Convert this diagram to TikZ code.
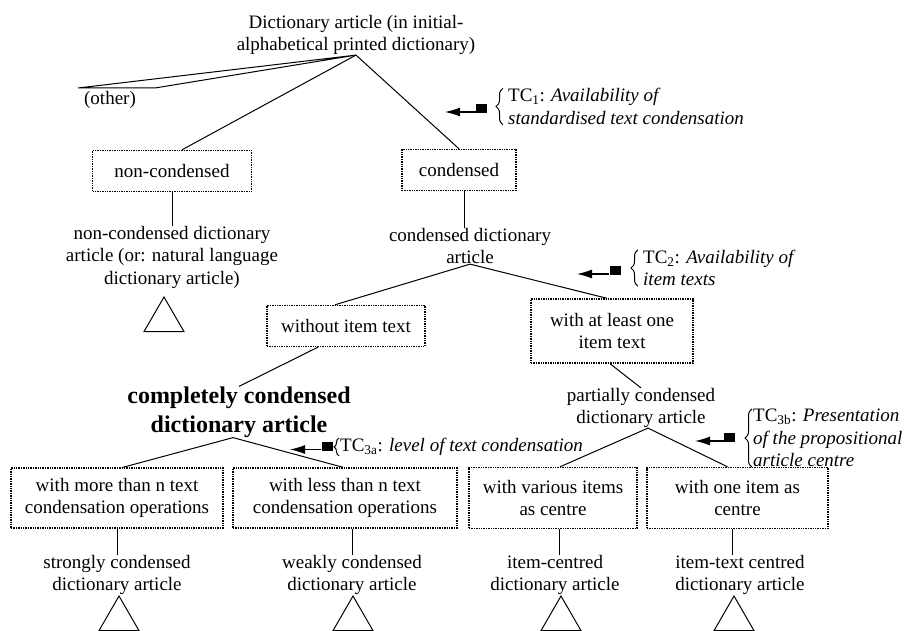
\documentclass[tikz,border=0pt]{standalone}
\usepackage{fontspec}
\setmainfont{Liberation Serif}
\usetikzlibrary{positioning}
\usetikzlibrary{shapes.geometric}
\usetikzlibrary{arrows.meta}
\usetikzlibrary{decorations.pathreplacing}
\tikzset{
  treenode/.style = {align=center, inner sep=0pt, text centered,
    font=\fontsize{19}{22.5}\selectfont},
  box_node/.style = {treenode, rectangle, draw=black, densely dotted,
    line width=1.4pt, inner ysep=9pt, minimum height=41pt},
  bold_node/.style = {treenode, font=\fontsize{24}{29}\selectfont\bfseries},
  tc_node/.style = {treenode, align=left, anchor=west},
  tc_mark/.style = {rectangle, fill=black, inner sep=0pt,
    minimum width=11pt, minimum height=9pt},
  tc_arrow/.style = {line width=1.1pt, -{Latex[length=15pt,width=9pt]}},
  tc_brace/.style = {decorate, decoration={brace, amplitude=7pt},
    line width=1pt},
  subtree_node/.style = {regular polygon, regular polygon sides=3,
    draw=black, line width=1pt, inner sep=0pt, minimum size=46pt},
  branch/.style = {line width=1pt}
}
\begin{document}
\begin{tikzpicture}[x=1pt, y=-1pt]
  \useasboundingbox (0,0) rectangle (915,631);
  % first level
  \node[treenode] (root) at (356,35) {Dictionary article (in initial-\\alphabetical printed dictionary)};
  \coordinate (other_l) at (78,88);
  \coordinate (other_r) at (155,88);
  \node[treenode] (other) at (110,100) {(other)};
  \node[box_node, minimum width=159pt] (noncond) at (172,171) {non-condensed};
  \node[box_node, minimum width=114pt] (cond) at (459,170) {condensed};
  \node[treenode] (noncond_art) at (172,257) {non-condensed dictionary\\article (or: natural language\\dictionary article)};
  \node[subtree_node] (tri_noncond) at (164,320) {};
  \node[treenode] (cond_art) at (470,246) {condensed dictionary\\article};
  % second level
  \node[box_node, minimum width=158pt] (without) at (346,326) {without item text};
  \node[box_node, minimum width=162pt, minimum height=64pt] (atleast) at (612,331) {with at least one\\item text};
  \node[bold_node] (complete) at (239,412) {completely condensed\\dictionary article};
  \node[treenode] (partial) at (641,408) {partially condensed\\dictionary article};
  % third level
  \node[box_node, minimum width=212pt, minimum height=60pt] (more) at (117,498) {with more than n text\\condensation operations};
  \node[box_node, minimum width=224pt, minimum height=60pt] (less) at (345,498) {with less than n text\\condensation operations};
  \node[box_node, minimum width=168pt, minimum height=61pt] (various) at (553,498) {with various items\\as centre};
  \node[box_node, minimum width=181pt, minimum height=61pt] (one) at (737.5,498) {with one item as\\centre};
  \node[treenode] (strongly) at (117,575) {strongly condensed\\dictionary article};
  \node[treenode] (weakly) at (352,575) {weakly condensed\\dictionary article};
  \node[treenode] (item) at (555,575) {item-centred\\dictionary article};
  \node[treenode] (itemtext) at (740,575) {item-text centred\\dictionary article};
  \node[subtree_node] (tri_strong) at (119,619) {};
  \node[subtree_node] (tri_weak) at (353,619) {};
  \node[subtree_node] (tri_item) at (561,619) {};
  \node[subtree_node] (tri_itemtext) at (734,619) {};
  % text condensation criteria
  \node[tc_node] (tc1) at (508,106.5) {TC\textsubscript{1}: \textit{Availability of}\\\textit{standardised text condensation}};
  \node[tc_mark] (tc1_mark) at (481.5,108.5) {};
  \coordinate (tc1_tip) at (445,112);
  \node[tc_node] (tc2) at (643,268) {TC\textsubscript{2}: \textit{Availability of}\\\textit{item texts}};
  \node[tc_mark] (tc2_mark) at (615,270.5) {};
  \coordinate (tc2_tip) at (577,274);
  \node[tc_node] (tc3a) at (340,447) {TC\textsubscript{3a}: \textit{level of text condensation}};
  \node[tc_mark] (tc3a_mark) at (327,446) {};
  \coordinate (tc3a_tip) at (290,449.5);
  \node[tc_node] (tc3b) at (753,438) {TC\textsubscript{3b}: \textit{Presentation}\\\textit{of the propositional}\\\textit{article centre}};
  \node[tc_mark] (tc3b_mark) at (729.5,437.5) {};
  \coordinate (tc3b_tip) at (695,441);
  % branches
  \draw[branch] (root.south) -- (other_l) -- (other_r) -- cycle;
  \draw[branch] (root.south) -- ([xshift=10pt]noncond.north);
  \draw[branch] (root.south) -- (cond.north);
  \draw[branch] (noncond.south) -- (noncond_art.north);
  \draw[branch] ([xshift=5pt]cond.south) -- ([xshift=-6pt]cond_art.north);
  \draw[branch] (cond_art.south) -- ([xshift=-11pt]without.north);
  \draw[branch] (cond_art.south) -- ([xshift=-5pt]atleast.north);
  \draw[branch] ([xshift=-28pt]without.south) -- (complete.north);
  \draw[branch] ([xshift=-2pt]atleast.south) -- (partial.north);
  \draw[branch] ([xshift=-6pt]complete.south) -- ([xshift=6pt]more.north);
  \draw[branch] ([xshift=-6pt]complete.south) -- ([xshift=-2pt]less.north);
  \draw[branch] ([xshift=7pt]partial.south) -- ([xshift=7pt]various.north);
  \draw[branch] ([xshift=7pt]partial.south) -- ([xshift=-10pt]one.north);
  \draw[branch] (more.south) -- (strongly.north);
  \draw[branch] ([xshift=7pt]less.south) -- (weakly.north);
  \draw[branch] ([xshift=6pt]various.south) -- ([xshift=4pt]item.north);
  \draw[branch] ([xshift=-5.5pt]one.south) -- ([xshift=-8pt]itemtext.north);
  % arrows and braces
  \foreach \tc in {tc1, tc2, tc3a, tc3b} {
    \draw[tc_arrow] ([yshift=-3.5pt]\tc_mark.west) -- (\tc_tip);
  }
  \draw[tc_brace] ([xshift=-5pt]tc1.south west) -- ([xshift=-5pt]tc1.north west);
  \draw[tc_brace] ([xshift=-5pt]tc2.south west) -- ([xshift=-5pt]tc2.north west);
  \draw[tc_brace, decoration={amplitude=5pt}] ([xshift=-1pt]tc3a.south west) -- ([xshift=-1pt]tc3a.north west);
  \draw[tc_brace] ([xshift=-1pt]tc3b.south west) -- ([xshift=-1pt]tc3b.north west);
\end{tikzpicture}
\end{document}
